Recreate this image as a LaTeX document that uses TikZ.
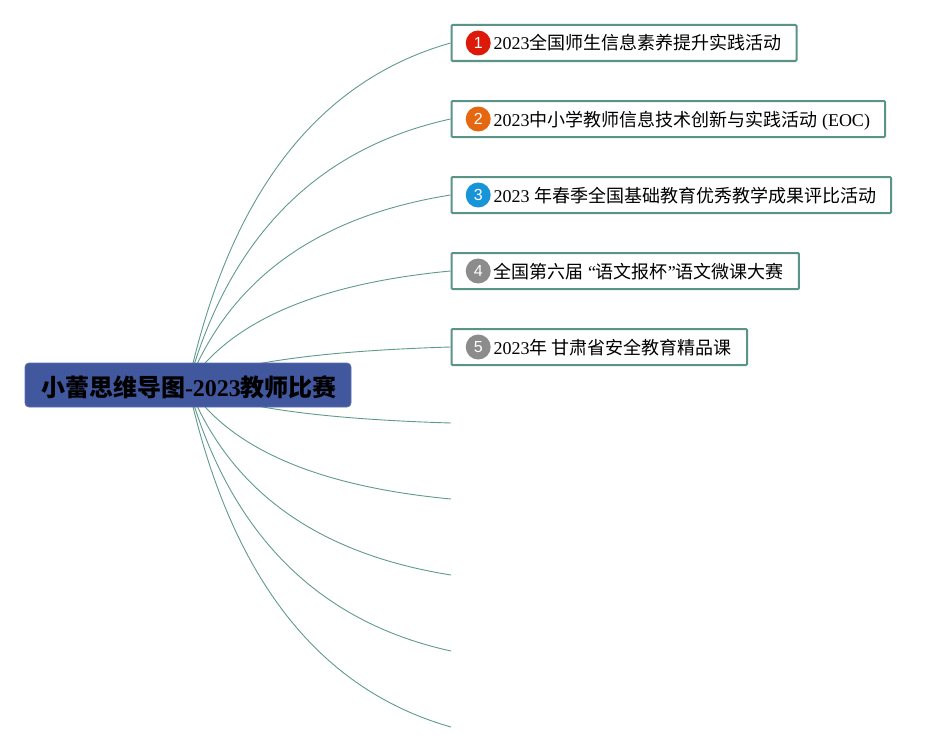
\documentclass[tikz,border=0pt]{standalone}
\usepackage{fontspec}
\setmainfont{Liberation Serif}
\setsansfont{Liberation Sans}
\newfontfamily\cjk{Noto Sans CJK SC}
\usetikzlibrary{positioning,backgrounds,calc}
\definecolor{linkgreen}{HTML}{5F9A8C}
\definecolor{boxgreen}{HTML}{5A9486}
\definecolor{rootblue}{HTML}{41589F}
\definecolor{badgered}{HTML}{DD1A0A}
\definecolor{badgeorange}{HTML}{E5670F}
\definecolor{badgeblue}{HTML}{1895D9}
\definecolor{badgegrey}{HTML}{8C8C8C}
\tikzset{
	rootbox/.style={draw=rootblue!85!white,fill=rootblue,rounded corners=4pt,line width=0.8pt,minimum width=326pt,minimum height=44pt,inner sep=0pt,text height=25pt,text depth=3pt,font=\fontsize{24}{26}\selectfont\bfseries},
	topicbox/.style={draw=boxgreen,line width=2pt,rounded corners=1pt,fill=white,anchor=west,minimum height=36pt,inner xsep=15pt,inner ysep=0pt,text height=17pt,text depth=3pt,font=\fontsize{18}{20}\selectfont},
	badge/.style={circle,minimum size=25pt,inner sep=0pt,text=white,font=\sffamily\fontsize{16}{18}\selectfont},
	link/.style={draw=linkgreen,line width=0.9pt}
}

\begin{document}
\begin{tikzpicture}[x=1pt,y=-1pt]
	\useasboundingbox (0,0) rectangle (936,752);
	\node[rootbox] (root) at (188,385) {\hspace*{2pt}{\cjk 小蕾思维导图}-2023{\cjk 教师比赛}};

	\node[topicbox] (t1) at (450.5,43) {\hspace{27pt}2023{\cjk 全国师生信息素养提升实践活动}};
	\node[topicbox] (t2) at (450.5,119) {\hspace{27pt}2023{\cjk 中小学教师信息技术创新与实践活动} (EOC)};
	\node[topicbox] (t3) at (450.5,195) {\hspace{27pt}2023 {\cjk 年春季全国基础教育优秀教学成果评比活动}};
	\node[topicbox] (t4) at (450.5,271) {\hspace{27pt}{\cjk 全国第六届} “{\cjk 语文报杯}”{\cjk 语文微课大赛}};
	\node[topicbox] (t5) at (450.5,347) {\hspace{27pt}2023{\cjk 年} {\cjk 甘肃省安全教育精品课}};
	\coordinate (t6) at (451,423);
	\coordinate (t7) at (451,499);
	\coordinate (t8) at (451,575);
	\coordinate (t9) at (451,651);
	\coordinate (t10) at (451,727);

	\node[badge,fill=badgered,right=15pt of t1.west] (b1) {1};
	\node[badge,fill=badgeorange,right=15pt of t2.west] (b2) {2};
	\node[badge,fill=badgeblue,right=15pt of t3.west] (b3) {3};
	\node[badge,fill=badgegrey,right=15pt of t4.west] (b4) {4};
	\node[badge,fill=badgegrey,right=15pt of t5.west] (b5) {5};

	\begin{pgfonlayer}{background}
		\foreach \n/\cy in {t1.west/100,t2.west/163,t3.west/227,t4.west/290,t5.west/353,t6/417,t7/480,t8/543,t9/607,t10/670}
			\draw[link] (root.center) .. controls ($(root.center)!0.667!(250,\cy)$) and ($(\n)!0.667!(250,\cy)$) .. (\n);
	\end{pgfonlayer}
\end{tikzpicture}
\end{document}
